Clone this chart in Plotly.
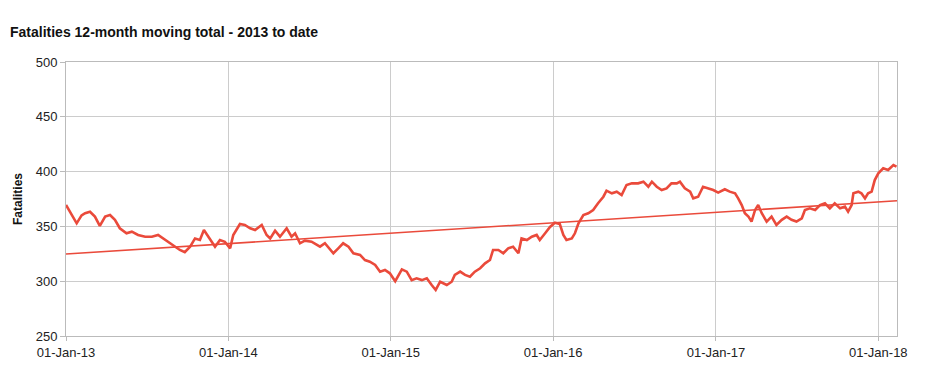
import plotly.graph_objects as go

dates = [
    "2013-01-01", "2013-01-14", "2013-01-25", "2013-02-05", "2013-02-13", "2013-02-24",
    "2013-03-07", "2013-03-18", "2013-03-30", "2013-04-10", "2013-04-21", "2013-05-02",
    "2013-05-17", "2013-05-29", "2013-06-12", "2013-06-28", "2013-07-13", "2013-07-27",
    "2013-08-08", "2013-08-23", "2013-09-03", "2013-09-14", "2013-09-25", "2013-10-07",
    "2013-10-18", "2013-10-29", "2013-11-07", "2013-11-17", "2013-12-02", "2013-12-13",
    "2013-12-24", "2014-01-05", "2014-01-12", "2014-01-27", "2014-02-07", "2014-02-19",
    "2014-03-02", "2014-03-17", "2014-03-28", "2014-04-05", "2014-04-16", "2014-04-27",
    "2014-05-12", "2014-05-23", "2014-05-31", "2014-06-11", "2014-06-22", "2014-07-07",
    "2014-07-26", "2014-08-06", "2014-08-25", "2014-09-05", "2014-09-16", "2014-09-28",
    "2014-10-09", "2014-10-24", "2014-11-04", "2014-11-15", "2014-11-27", "2014-12-08",
    "2014-12-19", "2014-12-30", "2015-01-11", "2015-01-26", "2015-02-06", "2015-02-17",
    "2015-02-28", "2015-03-12", "2015-03-23", "2015-04-03", "2015-04-12", "2015-04-22",
    "2015-05-07", "2015-05-18", "2015-05-25", "2015-06-06", "2015-06-17", "2015-06-28",
    "2015-07-09", "2015-07-21", "2015-08-01", "2015-08-12", "2015-08-19", "2015-08-31",
    "2015-09-11", "2015-09-22", "2015-10-03", "2015-10-15", "2015-10-22", "2015-11-03",
    "2015-11-14", "2015-11-25", "2015-12-02", "2015-12-14", "2015-12-25", "2016-01-05",
    "2016-01-16", "2016-01-24", "2016-01-31", "2016-02-12", "2016-02-19", "2016-02-27",
    "2016-03-09", "2016-03-20", "2016-03-31", "2016-04-11", "2016-04-23", "2016-04-30",
    "2016-05-12", "2016-05-23", "2016-06-03", "2016-06-14", "2016-06-26", "2016-07-10",
    "2016-07-22", "2016-08-02", "2016-08-10", "2016-08-21", "2016-09-01", "2016-09-12",
    "2016-09-23", "2016-10-05", "2016-10-12", "2016-10-23", "2016-11-04", "2016-11-11",
    "2016-11-22", "2016-12-03", "2016-12-15", "2016-12-26", "2017-01-06", "2017-01-21",
    "2017-02-01", "2017-02-13", "2017-02-20", "2017-02-28", "2017-03-07", "2017-03-15",
    "2017-03-22", "2017-03-30", "2017-04-06", "2017-04-14", "2017-04-25", "2017-05-06",
    "2017-05-17", "2017-05-29", "2017-06-09", "2017-06-20", "2017-07-01", "2017-07-13",
    "2017-07-20", "2017-07-31", "2017-08-12", "2017-08-23", "2017-09-03", "2017-09-14",
    "2017-09-25", "2017-10-07", "2017-10-18", "2017-10-25", "2017-11-02", "2017-11-06",
    "2017-11-17", "2017-11-24", "2017-12-02", "2017-12-09", "2017-12-17", "2017-12-24",
    "2018-01-01", "2018-01-12", "2018-01-23", "2018-02-04", "2018-02-11",
]

fatalities = [
    369.5, 360.4, 352.8, 360.0, 362.0, 363.4,
    358.9, 350.4, 359.0, 360.4, 356.0, 348.3,
    343.7, 345.2, 342.2, 340.6, 340.6, 342.2,
    339.0, 334.6, 331.5, 328.5, 326.4, 331.5,
    339.0, 337.6, 346.7, 340.6, 331.5, 337.6,
    336.0, 330.0, 342.2, 352.2, 351.3, 348.3,
    346.7, 351.3, 342.2, 339.0, 346.0, 340.6,
    348.3, 340.6, 343.7, 334.6, 337.0, 336.0,
    331.5, 334.6, 325.5, 330.0, 334.6, 331.5,
    325.5, 324.0, 319.3, 317.8, 314.8, 308.7,
    310.2, 307.2, 300.0, 310.8, 308.7, 301.0,
    302.6, 301.0, 302.6, 296.5, 292.0, 299.5,
    296.5, 299.5, 305.7, 308.7, 305.7, 304.1,
    308.7, 311.8, 316.3, 319.3, 328.5, 328.5,
    325.5, 330.0, 331.5, 325.5, 339.0, 337.6,
    340.6, 342.2, 337.6, 343.7, 349.5, 353.4,
    352.2, 342.2, 337.6, 339.0, 343.7, 352.8,
    360.4, 362.0, 365.0, 371.1, 377.1, 382.6,
    380.2, 381.7, 378.6, 387.8, 389.3, 389.3,
    390.8, 386.2, 390.8, 386.2, 383.2, 384.7,
    389.3, 389.3, 390.8, 384.7, 381.7, 375.6,
    377.1, 386.2, 384.7, 383.2, 380.8, 383.9,
    381.7, 380.2, 375.6, 369.5, 362.0, 358.9,
    354.4, 365.0, 369.5, 362.0, 354.4, 358.9,
    351.3, 356.0, 358.9, 356.0, 354.4, 357.4,
    365.0, 366.5, 365.0, 369.5, 371.1, 366.5,
    371.1, 366.5, 368.0, 363.5, 369.5, 380.2,
    381.7, 380.2, 375.6, 380.2, 381.7, 392.3,
    398.4, 403.0, 401.5, 406.0, 404.5,
]

trend_dates = ["2013-01-01", "2018-02-12"]
trend_values = [324.8, 373.4]

tick_dates = ["2013-01-01", "2014-01-01", "2015-01-01", "2016-01-01", "2017-01-01", "2018-01-01"]
tick_labels = ["01-Jan-13", "01-Jan-14", "01-Jan-15", "01-Jan-16", "01-Jan-17", "01-Jan-18"]
y_ticks = [250, 300, 350, 400, 450, 500]

RED = "#ea4a3b"
FONT = "Liberation Sans, Arial, sans-serif"

# page body has an 8px margin; size the figure to fit the window
W, H = 931, 381
L, R, T, B = 58, 42, 54, 53

fig = go.Figure()
fig.add_trace(go.Scatter(
    x=dates, y=fatalities, mode="lines",
    line=dict(color=RED, width=2.6), showlegend=False,
))
fig.add_trace(go.Scatter(
    x=trend_dates, y=trend_values, mode="lines",
    line=dict(color=RED, width=1.6), showlegend=False,
))

fig.update_layout(
    width=W, height=H,
    margin=dict(l=L, r=R, t=T, b=B),
    paper_bgcolor="white", plot_bgcolor="white",
    font=dict(family=FONT, size=12, color="#222222"),
    title=dict(
        text="<b>Fatalities 12-month moving total - 2013 to date</b>",
        x=2 / W, xanchor="left", xref="container",
        y=1 - 24 / H, yanchor="middle", yref="container",
        font=dict(size=14, color="#111111", family=FONT),
    ),
    annotations=[dict(
        text="<b>Fatalities</b>", xref="paper", yref="paper",
        x=(18 - 66) / 831, y=0.5, textangle=-90, showarrow=False,
        xanchor="center", yanchor="middle",
        font=dict(size=12, color="#111111", family=FONT),
    )],
)

fig.update_xaxes(
    type="date", range=["2013-01-01", "2018-02-12"],
    tickvals=tick_dates, ticktext=tick_labels,
    showgrid=True, gridcolor="#cccccc", gridwidth=1,
    showline=True, linecolor="#bbbbbb", linewidth=1, mirror=True,
    ticks="outside", ticklen=4, tickcolor="#bbbbbb",
    tickfont=dict(size=13, color="#222222"),
    zeroline=False,
)
fig.update_yaxes(
    range=[250, 500], tickvals=y_ticks,
    showgrid=True, gridcolor="#cccccc", gridwidth=1,
    showline=True, linecolor="#bbbbbb", linewidth=1, mirror=True,
    ticks="outside", ticklen=5, tickcolor="#bbbbbb",
    tickfont=dict(size=13, color="#222222"),
    zeroline=False,
)

fig.write_html("out.html")
